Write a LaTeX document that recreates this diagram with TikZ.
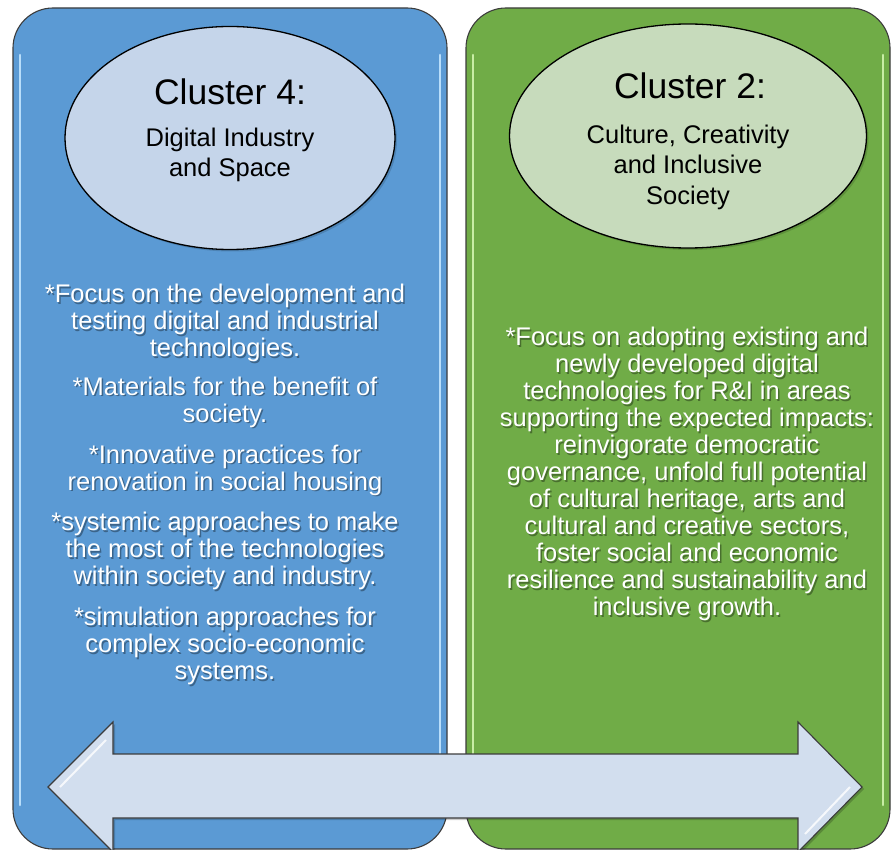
\documentclass[tikz,border=0pt]{standalone}
\usepackage{fontspec}
\setmainfont{Liberation Sans}
\usetikzlibrary{shapes.geometric}
\definecolor{boxblue}{HTML}{5B9AD4}
\definecolor{boxgreen}{HTML}{70AC47}
\definecolor{hlblue}{HTML}{C4E6FF}
\definecolor{hlgreen}{HTML}{D2F5B0}
\definecolor{ellblue}{HTML}{C5D5EA}
\definecolor{ellgreen}{HTML}{C7DBBC}
\definecolor{arrowfill}{HTML}{D2DEEE}
\definecolor{edgegray}{HTML}{3C3C3C}
\tikzset{
  panel/.style={draw=edgegray, line width=1.1pt, rounded corners=40pt},
  highlight/.style={line width=2.6pt, line cap=round, opacity=0.9},
  ell/.style={ellipse, draw=black, line width=1.3pt, inner sep=0pt},
  ellshadow/.style={ellipse, fill=black, opacity=0.15, inner sep=0pt},
  titletxt/.style={font=\fontsize{35.5}{38}\selectfont, text=black, inner sep=0pt},
  subtxt/.style={font=\fontsize{25.5}{30.5}\selectfont, text=black, align=center, inner sep=0pt},
  bodytxt/.style={font=\fontsize{25.5}{27}\selectfont, text=white, align=center, inner sep=0pt},
  bodyshadow/.style={font=\fontsize{25.5}{27}\selectfont, text=black, opacity=0.35, align=center, inner sep=0pt},
  dblarrow/.style={draw=edgegray, line width=1.1pt, fill=arrowfill, line join=miter},
}
\begin{document}
\begin{tikzpicture}[x=1pt,y=-1pt]
\useasboundingbox (0,0) rectangle (891,850);
\begin{scope}
\clip (0,0) rectangle (891,850);
% panels
\draw[panel, fill=boxblue] (13,8) rectangle (447,849);
\draw[panel, fill=boxgreen] (466,8) rectangle (890,849);
% glossy edge highlights
\draw[highlight, draw=hlblue] (20,55) -- (20,805);
\draw[highlight, draw=hlblue] (440,55) -- (440,805);
\draw[highlight, draw=hlgreen] (473,55) -- (473,805);
\draw[highlight, draw=hlgreen] (883,55) -- (883,805);

% ellipses
\node[ellshadow, minimum width=330pt, minimum height=223pt] (e4s) at (232,140) {};
\node[ell, fill=ellblue, minimum width=330pt, minimum height=223pt] (e4) at (230,138) {};
\node[ellshadow, minimum width=357pt, minimum height=224pt] (e2s) at (690,138) {};
\node[ell, fill=ellgreen, minimum width=357pt, minimum height=224pt] (e2) at (688,136) {};

% ellipse texts
\node[titletxt] (t4) at (230,92) {Cluster 4:};
\node[subtxt] (s4) at (230,155) {Digital Industry\\and Space};
\node[titletxt] (t2) at (690,86) {Cluster 2:};
\node[subtxt] (s2) at (688,167) {Culture, Creativity\\and Inclusive\\Society};

% left body text
\foreach \n/\y/\t in {
  p1/323/{*Focus on the development and\\testing digital and industrial\\technologies.},
  p2/402/{*Materials for the benefit of\\society.},
  p3/470/{*Innovative practices for\\renovation in social housing},
  p4/551/{*systemic approaches to make\\the most of the technologies\\within society and industry.},
  p5/646/{*simulation approaches for\\complex socio-economic\\systems.}}{
  \node[bodyshadow] (\n s) at (226.5,\y+1.5) {\t};
  \node[bodytxt] (\n) at (225,\y) {\t};
}
% right body text
\node[bodyshadow] (q1s) at (688.5,475.5) {*Focus on adopting existing and\\newly developed digital\\technologies for R\&I in areas\\supporting the expected impacts:\\reinvigorate democratic\\governance, unfold full potential\\of cultural heritage, arts and\\cultural and creative sectors,\\foster social and economic\\resilience and sustainability and\\inclusive growth.};
\node[bodytxt] (q1) at (687,474) {*Focus on adopting existing and\\newly developed digital\\technologies for R\&I in areas\\supporting the expected impacts:\\reinvigorate democratic\\governance, unfold full potential\\of cultural heritage, arts and\\cultural and creative sectors,\\foster social and economic\\resilience and sustainability and\\inclusive growth.};

% double arrow
\fill[black, opacity=0.2] (50,789) -- (115,724) -- (115,756) -- (800,756) -- (800,724) -- (864,789) -- (800,854) -- (800,820) -- (115,820) -- (115,854) -- cycle;
\draw[dblarrow] (48,787) -- (113,722) -- (113,754) -- (798,754) -- (798,722) -- (862,787) -- (798,852) -- (798,818) -- (113,818) -- (113,852) -- cycle;
\draw[white, line width=2pt, opacity=0.8] (60,787) -- (106,740);
\draw[white, line width=2pt, opacity=0.8] (850,787) -- (805,834);
\end{scope}
\end{tikzpicture}
\end{document}
